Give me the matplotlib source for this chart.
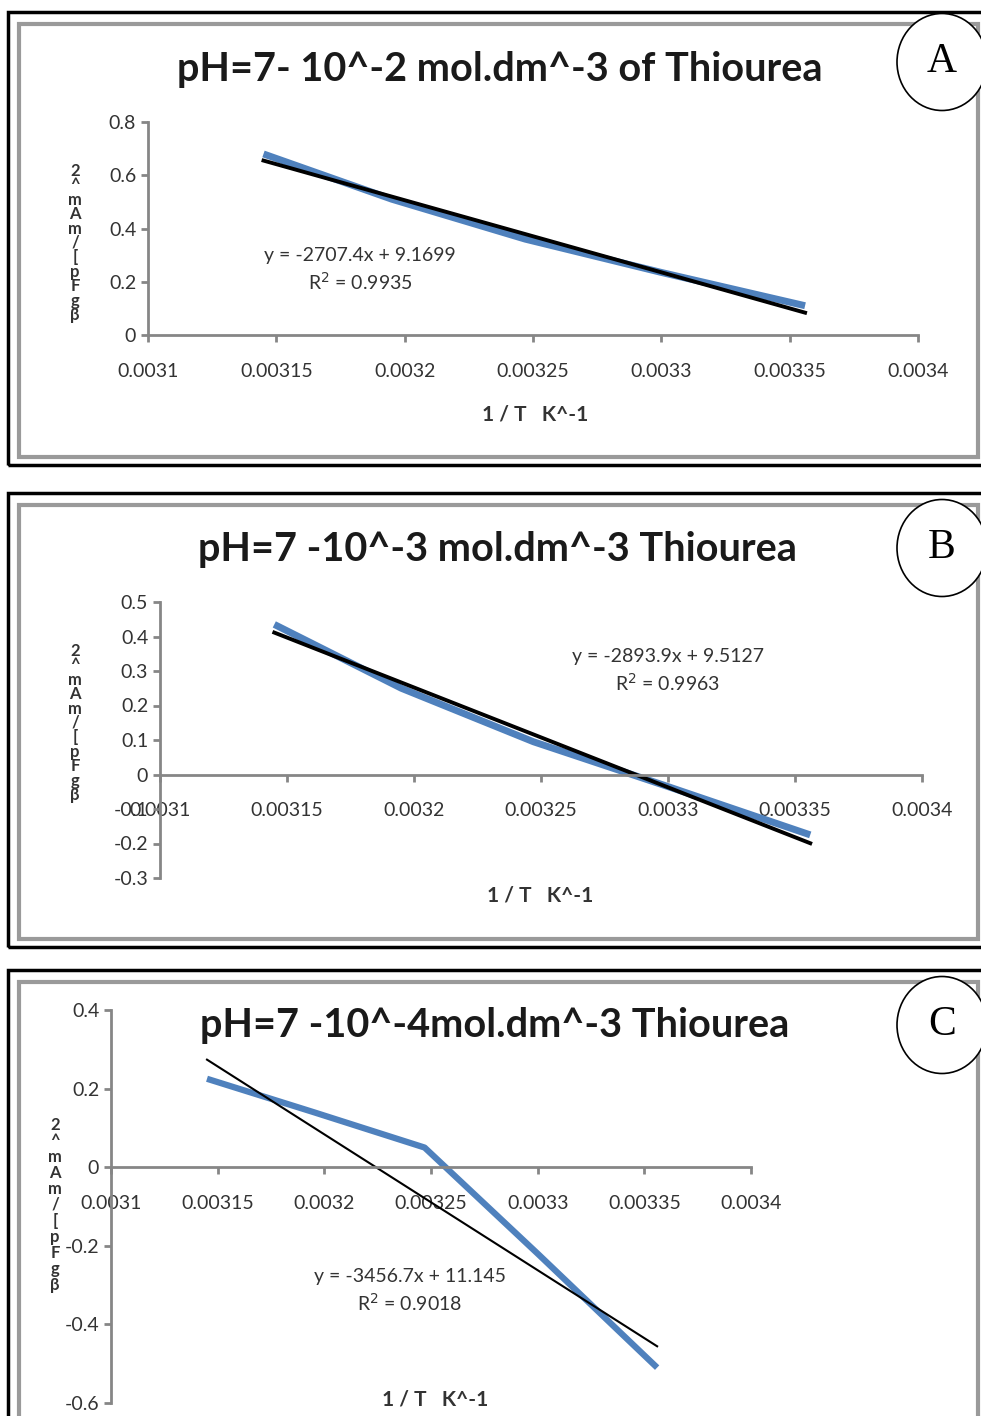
import matplotlib.pyplot as plt
from matplotlib.patches import Rectangle, Ellipse
import numpy as np

W, H = 981, 1416

# 1/T values (K^-1)
inv_T = [0.003145, 0.003195, 0.003247, 0.0033, 0.003356]

# ln-type response for each thiourea concentration
y_A = [0.680, 0.510, 0.360, 0.235, 0.110]
y_B = [0.435, 0.250, 0.095, -0.035, -0.175]
y_C = [0.225, 0.140, 0.050, -0.220, -0.510]

titles = ["pH=7- 10^-2 mol.dm^-3 of Thiourea",
          "pH=7 -10^-3 mol.dm^-3 Thiourea",
          "pH=7 -10^-4mol.dm^-3 Thiourea"]
letters = ["A", "B", "C"]

slopes = [-2707.4, -2893.9, -3456.7]
intercepts = [9.1699, 9.5127, 11.145]
eq_text = ["y = -2707.4x + 9.1699\nR$^2$ = 0.9935",
           "y = -2893.9x + 9.5127\nR$^2$ = 0.9963",
           "y = -3456.7x + 11.145\nR$^2$ = 0.9018"]

x_ticks = [0.0031, 0.00315, 0.0032, 0.00325, 0.0033, 0.00335, 0.0034]
x_tick_labels = ["0.0031", "0.00315", "0.0032", "0.00325", "0.0033", "0.00335", "0.0034"]
y_ticks_A = [0, 0.2, 0.4, 0.6, 0.8]
y_ticks_B = [-0.3, -0.2, -0.1, 0, 0.1, 0.2, 0.3, 0.4, 0.5]
y_ticks_C = [-0.6, -0.4, -0.2, 0, 0.2, 0.4]

ylab = "2\n^\nm\nA\nm\n/\n[\np\nF\ng\nβ"

plt.rcParams['font.family'] = ['Lato', 'DejaVu Sans']
fig = plt.figure(figsize=(W / 100, H / 100), dpi=100)


def fx(x):
    return x / W


def fy(y):
    return 1 - y / H


def frame(top, bottom):
    # outer black box and inner grey chart border
    fig.add_artist(Rectangle((fx(8), fy(bottom)), fx(990 - 8), (bottom - top) / H,
                             transform=fig.transFigure, fill=False, ec="black", lw=2.5))
    fig.add_artist(Rectangle((fx(19), fy(bottom - 8)), fx(978 - 19), (bottom - top - 20) / H,
                             transform=fig.transFigure, fill=False, ec="#9a9a9a", lw=3))


# panel pixel boxes: left, right, top, bottom of plot area
boxes = [(148, 918, 122, 335), (160, 922, 602, 878), (111, 751, 1010, 1403)]
frames = [(12, 465), (493, 947), (970, 1430)]
ylims = [(0, 0.8), (-0.3, 0.5), (-0.6, 0.4)]
yticks = [y_ticks_A, y_ticks_B, y_ticks_C]
ys = [y_A, y_B, y_C]
title_pos = [(500, 70), (497, 550), (495, 1025)]
xlab_pos = [(535, 415), (540, 895), (435, 1400)]
eq_pos = [(360, 270), (668, 671), (410, 1291)]
ylab_pos = [(75, 243), (75, 723), (55, 1205)]
ylab_spacing = [0.88, 0.88, 1.0]
circle_y = [62, 548, 1025]

for i in range(3):
    frame(*frames[i])
    l, r, t, b = boxes[i]
    ax = fig.add_axes([fx(l), fy(b), (r - l) / W, (b - t) / H])
    ax.set_xlim(0.0031, 0.0034)
    ax.set_ylim(*ylims[i])
    ax.plot(inv_T, ys[i], color="#4f81bd", lw=5 if i < 2 else 4.5, solid_capstyle="butt")
    xf = np.array([inv_T[0], inv_T[-1]])
    ax.plot(xf, slopes[i] * xf + intercepts[i], color="black", lw=2.8 if i < 2 else 1.5)
    for s in ["top", "right"]:
        ax.spines[s].set_visible(False)
    for s in ["left", "bottom"]:
        ax.spines[s].set_color("#868686")
        ax.spines[s].set_linewidth(2)
    ax.spines["bottom"].set_position(("data", 0))
    ax.set_xticks(x_ticks)
    ax.set_xticklabels(x_tick_labels)
    ax.set_yticks(yticks[i])
    ax.set_yticklabels(["%g" % v for v in yticks[i]])
    ax.tick_params(direction="out", length=5, width=2, color="#868686",
                   labelsize=14, labelcolor="#333333")
    ax.tick_params(axis="x", pad=15)
    ax.patch.set_alpha(0)

    fig.text(fx(title_pos[i][0]), fy(title_pos[i][1]), titles[i], ha="center", va="center",
             fontsize=28.5, fontweight="bold", color="#1a1a1a")
    fig.text(fx(xlab_pos[i][0]), fy(xlab_pos[i][1]), "1 / T   K^-1", ha="center", va="center",
             fontsize=15, fontweight="bold", color="#333333")
    fig.text(fx(eq_pos[i][0]), fy(eq_pos[i][1]), eq_text[i], ha="center", va="center",
             fontsize=14, color="#333333", linespacing=1.35)
    fig.text(fx(ylab_pos[i][0]), fy(ylab_pos[i][1]), ylab, ha="center", va="center",
             fontsize=12, fontweight="bold", color="#333333", linespacing=ylab_spacing[i])

    fig.add_artist(Ellipse((fx(942), fy(circle_y[i])), fx(90), 97 / H,
                           transform=fig.transFigure, fill=True, fc="white", ec="black", lw=1.2))
    fig.text(fx(942), fy(circle_y[i]), letters[i], ha="center", va="center",
             fontsize=30, family="Liberation Serif")

fig.savefig("out.png", dpi=100)
